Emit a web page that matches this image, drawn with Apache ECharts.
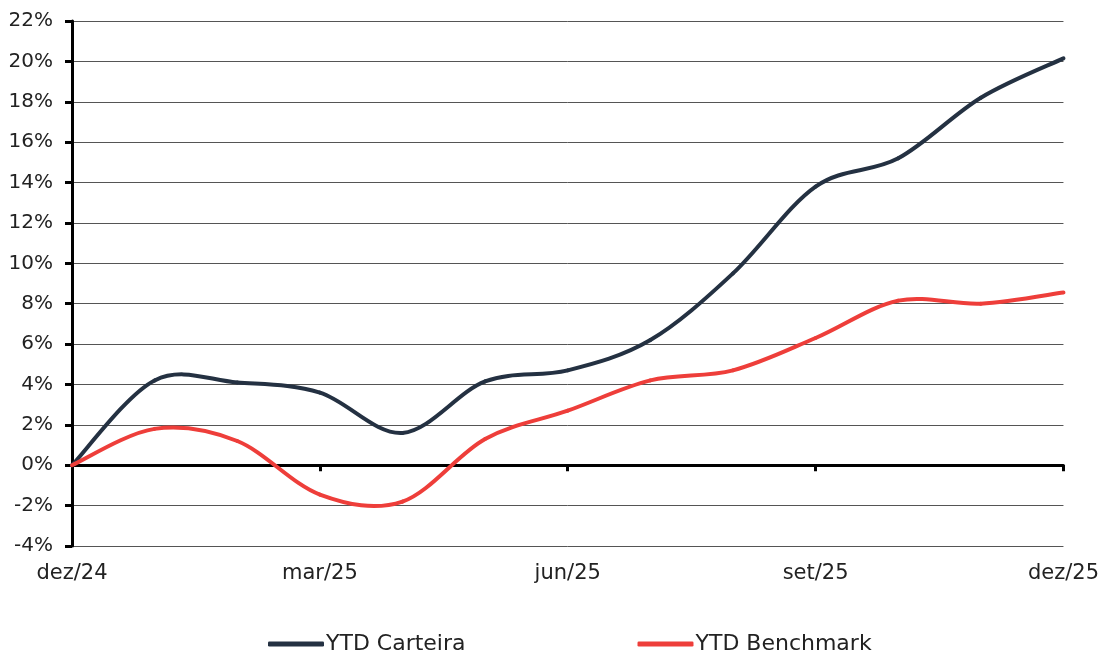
<!DOCTYPE html>
<html>
<head>
<meta charset="utf-8">
<script src="https://cdn.jsdelivr.net/npm/echarts@6/dist/echarts.min.js"></script>
<style>
html,body{margin:0;padding:0;background:#fff;}
#chart{width:1102px;height:652px;}
</style>
</head>
<body>
<div id="chart"></div>
<script>
var months = ['dez/24','jan/25','fev/25','mar/25','abr/25','mai/25','jun/25','jul/25','ago/25','set/25','out/25','nov/25','dez/25'];
var carteira = [0, 4.2, 4.1, 3.6, 1.6, 4.15, 4.7, 6.2, 9.5, 13.8, 15.2, 18.2, 20.15];
var benchmark = [0, 1.8, 1.2, -1.45, -1.8, 1.3, 2.7, 4.2, 4.7, 6.3, 8.15, 8.0, 8.55];
var seriesNames = ['YTD Carteira', 'YTD Benchmark'];
var yTicks = [-4, 22, 2];

var FONT = '"DejaVu Sans", "Open Sans", sans-serif';
var colors = ['#243142', '#EE3E3A'];

function smoothSeries(name, values, color) {
  return {
    type: 'custom',
    name: name,
    xAxisIndex: 0,
    yAxisIndex: 0,
    itemStyle: { color: color },
    data: values.map(function (v, i) { return [i, v]; }),
    encode: { x: 0, y: 1 },
    renderItem: function (params, api) {
      var i = params.dataIndex;
      if (i === 0) return null;
      var n = values.length;
      function pt(k) {
        k = Math.max(0, Math.min(n - 1, k));
        return api.coord([k, values[k]]);
      }
      var p0 = pt(i - 2), p1 = pt(i - 1), p2 = pt(i), p3 = pt(i + 1);
      return {
        type: 'bezierCurve',
        shape: {
          x1: p1[0], y1: p1[1],
          x2: p2[0], y2: p2[1],
          cpx1: p1[0] + (p2[0] - p0[0]) / 6,
          cpy1: p1[1] + (p2[1] - p0[1]) / 6,
          cpx2: p2[0] - (p3[0] - p1[0]) / 6,
          cpy2: p2[1] - (p3[1] - p1[1]) / 6
        },
        style: { stroke: color, lineWidth: 4, fill: null, lineCap: 'round' }
      };
    }
  };
}

var chart = echarts.init(document.getElementById('chart'), null, { renderer: 'canvas' });
chart.setOption({
  animation: false,
  backgroundColor: '#fff',
  grid: { left: 72, right: 38, top: 21, bottom: 106, containLabel: false },
  legend: {
    top: 628,
    left: 263,
    itemWidth: 56,
    itemHeight: 5,
    itemGap: 172,
    icon: 'roundRect',
    data: seriesNames,
    textStyle: { fontFamily: FONT, fontSize: 22, color: '#222', padding: [0, 0, 0, -3] }
  },
  xAxis: [
    {
      type: 'category',
      data: months,
      boundaryGap: false,
      position: 'bottom',
      axisLine: { show: false, onZero: false },
      axisTick: { show: false },
      splitLine: { show: false },
      axisLabel: { interval: 2, margin: 17, fontFamily: FONT, fontSize: 21, color: '#222' }
    },
    {
      type: 'category',
      data: months,
      boundaryGap: false,
      position: 'bottom',
      axisLine: { show: true, onZero: true, lineStyle: { color: '#000', width: 3 } },
      axisTick: { show: true, interval: 2, length: 6, lineStyle: { color: '#000', width: 3 } },
      axisLabel: { show: false },
      splitLine: { show: false }
    }
  ],
  yAxis: {
    type: 'value',
    min: yTicks[0],
    max: yTicks[1],
    interval: yTicks[2],
    axisLine: { show: true, lineStyle: { color: '#000', width: 3 } },
    axisTick: { show: true, length: 7, lineStyle: { color: '#000', width: 3 } },
    axisLabel: { formatter: '{value}%', margin: 19, fontFamily: FONT, fontSize: 20, color: '#222' },
    splitLine: { show: true, lineStyle: { color: '#555', width: 1 } }
  },
  series: [
    smoothSeries(seriesNames[0], carteira, colors[0]),
    smoothSeries(seriesNames[1], benchmark, colors[1])
  ]
});
</script>
</body>
</html>
